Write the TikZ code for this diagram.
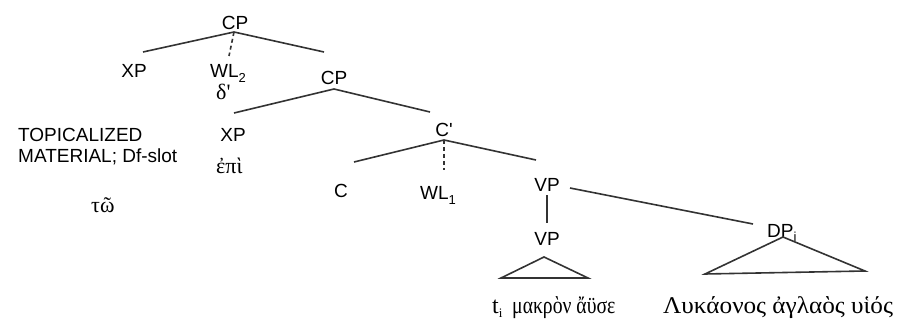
\documentclass[tikz,border=0pt]{standalone}
\usepackage{fontspec}
\setmainfont{Liberation Sans}
\newfontfamily\grk{Liberation Serif}
\newcommand\sbs[1]{\raisebox{-0.4ex}{\fontsize{13}{13}\selectfont #1}}
\begin{document}
\begin{tikzpicture}[x=1pt,y=-1pt,
  lab/.style={font=\fontsize{19}{21}\selectfont, inner sep=0pt, anchor=base},
  gk/.style={font=\grk\fontsize{22}{24}\selectfont, inner sep=0pt, anchor=base west},
  gkb/.style={font=\grk\fontsize{24}{26}\selectfont, inner sep=0pt, anchor=base west},
  br/.style={line width=1.6pt, draw=black!80},
  dl/.style={br, dash pattern=on 4pt off 3pt}]
\useasboundingbox (0,0) rectangle (897,326);
% labels
\node[lab] (cp1) at (235,30) {CP};
\node[lab] (xp1) at (134,78) {XP};
\node[lab,anchor=base west] (wl2) at (210,78) {WL\sbs{2}};
\node[gk] (delta) at (216,100) {δ\textquotesingle};
\node[lab] (cp2) at (334,85) {CP};
\node[lab] (xp2) at (233,142) {XP};
\node[lab,anchor=base west] (topa) at (18,142) {TOPICALIZED};
\node[lab,anchor=base west] (topb) at (18,163) {MATERIAL; Df-slot};
\node[gk] (epi) at (216,173) {ἐπὶ};
\node[gk] (tw) at (91,212) {τῶ};
\node[lab] (cbar) at (444,137) {C\textquotesingle};
\node[lab] (c) at (341,197) {C};
\node[lab,anchor=base west] (wl1) at (420,200) {WL\sbs{1}};
\node[lab] (vp1) at (547,191) {VP};
\node[lab] (vp2) at (547,245) {VP};
\node[lab,anchor=base west] (dp) at (767,237) {DP\sbs{i}};
\node[gkb] (ta) at (492,313) {t\sbs{i}};
\node[gkb] (tb) at (512,313) {\scalebox{0.82}[1]{μακρὸν ἄϋσε}};
\node[gkb] (tc) at (663,313) {\scalebox{1.05}[1]{Λυκάονος ἀγλαὸς υἱός}};
% branch points
\coordinate (a1) at (234,32); \coordinate (l1) at (143,52);
\coordinate (r1) at (324,52); \coordinate (d1) at (229,56);
\coordinate (a2) at (334,89); \coordinate (l2) at (234,113);
\coordinate (r2) at (430,112);
\coordinate (a3) at (444,140); \coordinate (l3) at (354,162);
\coordinate (r3) at (536,160); \coordinate (d3) at (444,170);
\coordinate (v1) at (570,188); \coordinate (v2) at (753,224);
\coordinate (u1) at (547,195); \coordinate (u2) at (547,223);
\coordinate (t1a) at (544,257); \coordinate (t1l) at (501,278); \coordinate (t1r) at (588,278);
\coordinate (t2a) at (783,237); \coordinate (t2l) at (705,274); \coordinate (t2r) at (865,271);
% branches
\draw[br] (l1) -- (a1) -- (r1);
\draw[dl] (a1) -- (d1);
\draw[br] (l2) -- (a2) -- (r2);
\draw[br] (l3) -- (a3) -- (r3);
\draw[dl] (a3) -- (d3);
\draw[br] (v1) -- (v2);
\draw[br] (u1) -- (u2);
\draw[br] (t1a) -- (t1l) -- (t1r) -- cycle;
\draw[br] (t2a) -- (t2l) -- (t2r) -- cycle;
\end{tikzpicture}
\end{document}
